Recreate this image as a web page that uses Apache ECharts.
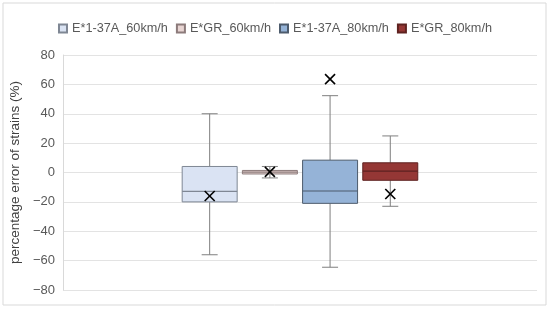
<!DOCTYPE html>
<html>
<head>
<meta charset="utf-8">
<script src="https://cdn.jsdelivr.net/npm/echarts@6/dist/echarts.min.js"></script>
<style>
  html, body { margin: 0; padding: 0; background: #fff; }
  #main { width: 550px; height: 309px; }
</style>
</head>
<body>
<div id="main"></div>
<script>
  // 数据
  var seriesNames = ['E*1-37A_60km/h', 'E*GR_60km/h', 'E*1-37A_80km/h', 'E*GR_80km/h'];
  var minValues    = [-56.0, -3.7, -64.5, -23.0];
  var q1Values     = [-20.0, -1.0, -21.0, -5.3];
  var medianValues = [-12.8,  0.2, -12.6,  0.9];
  var q3Values     = [  4.1,  1.4,   8.4,  6.6];
  var maxValues    = [ 40.0,  4.1,  52.3, 24.9];
  var meanValues   = [-16.0,  0.4,  63.6, -14.6];
  var yTicks = [-80, -60, -40, -20, 0, 20, 40, 60, 80];

  var fills   = ['#dae3f3', '#e8d5d3', '#95b3d7', '#953735'];
  var borders = ['#7f8794', '#8c7b7b', '#4d5b6c', '#5e2220'];
  var whiskerColor = '#7f7f7f';

  // 箱线图：用 custom 系列画（位置由坐标轴换算）
  function renderBox(params, api) {
    var i = params.seriesIndex;
    var band = api.size([1, 0])[0];
    var cx = api.coord([0, 0])[0] + (i - 1.5) * band * 0.127;
    var halfBox = band * 0.058;
    var halfCap = 8;
    var y = function (v) { return api.coord([0, v])[1]; };
    var yMin = y(api.value(1)), yQ1 = y(api.value(2)), yMed = y(api.value(3));
    var yQ3 = y(api.value(4)), yMax = y(api.value(5)), yMean = y(api.value(6));
    var lineStyle = { stroke: whiskerColor, lineWidth: 1 };
    var m = 5;
    return {
      type: 'group',
      children: [
        { type: 'line', shape: { x1: cx, y1: yMax, x2: cx, y2: yQ3 }, style: lineStyle },
        { type: 'line', shape: { x1: cx, y1: yQ1, x2: cx, y2: yMin }, style: lineStyle },
        { type: 'line', shape: { x1: cx - halfCap, y1: yMax, x2: cx + halfCap, y2: yMax }, style: lineStyle },
        { type: 'line', shape: { x1: cx - halfCap, y1: yMin, x2: cx + halfCap, y2: yMin }, style: lineStyle },
        {
          type: 'rect',
          shape: { x: cx - halfBox, y: yQ3, width: halfBox * 2, height: yQ1 - yQ3 },
          style: { fill: fills[i], stroke: borders[i], lineWidth: 1 }
        },
        { type: 'line', shape: { x1: cx - halfBox, y1: yMed, x2: cx + halfBox, y2: yMed },
          style: { stroke: borders[i], lineWidth: 1.2 } },
        { type: 'line', shape: { x1: cx - m, y1: yMean - m, x2: cx + m, y2: yMean + m },
          style: { stroke: '#000', lineWidth: 1.6 } },
        { type: 'line', shape: { x1: cx - m, y1: yMean + m, x2: cx + m, y2: yMean - m },
          style: { stroke: '#000', lineWidth: 1.6 } }
      ]
    };
  }

  var series = seriesNames.map(function (name, i) {
    return {
      name: name,
      type: 'custom',
      renderItem: renderBox,
      itemStyle: { color: fills[i], borderColor: borders[i], borderWidth: 1 },
      encode: { x: 0, y: [1, 2, 3, 4, 5, 6] },
      data: [[0, minValues[i], q1Values[i], medianValues[i], q3Values[i], maxValues[i], meanValues[i]]]
    };
  });

  var myChart = echarts.init(document.getElementById('main'));

  var option = {
    animation: false,
    backgroundColor: '#fff',
    textStyle: { fontFamily: 'Liberation Sans' },
    graphic: [{
      type: 'rect',
      shape: { x: 3, y: 3, width: 543, height: 302 },
      style: { fill: 'none', stroke: '#d9d9d9', lineWidth: 1 }
    }],
    //图例
    legend: {
      top: 17,
      left: 'center',
      icon: 'rect',
      itemWidth: 8,
      itemHeight: 8,
      itemGap: 8,
      textStyle: { fontSize: 12.7, color: '#595959' },
      data: seriesNames
    },
    grid: { left: 62, right: 13, top: 55, bottom: 19 },
    //横坐标
    xAxis: {
      type: 'category',
      data: [''],
      axisLine: { show: false },
      axisTick: { show: false },
      axisLabel: { show: false }
    },
    //纵坐标
    yAxis: {
      type: 'value',
      min: yTicks[0],
      max: yTicks[yTicks.length - 1],
      interval: 20,
      name: 'percentage error of strains (%)',
      nameLocation: 'middle',
      nameGap: 33,
      nameTextStyle: { fontSize: 13.5, color: '#404040' },
      axisLine: { show: true, lineStyle: { color: '#d9d9d9' } },
      axisTick: { show: false },
      axisLabel: {
        fontSize: 13, color: '#595959', margin: 8,
        formatter: function (v) { return String(v).replace('-', '\u2212'); }
      },
      splitLine: { lineStyle: { color: '#e3e3e3' } }
    },
    series: series
  };

  myChart.setOption(option);
</script>
</body>
</html>
